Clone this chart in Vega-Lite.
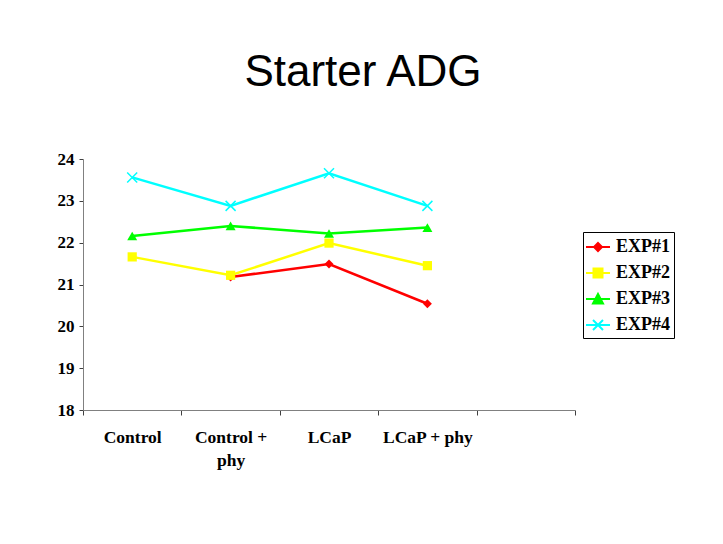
{
  "$schema": "https://vega.github.io/schema/vega-lite/v6.json",
  "width": 492,
  "height": 251,
  "autosize": "none",
  "padding": {"left": 83, "top": 159, "right": 148, "bottom": 134},
  "background": "white",
  "title": {
    "text": "Starter ADG",
    "font": "Liberation Sans",
    "fontSize": 44,
    "fontWeight": "normal",
    "color": "black",
    "anchor": "middle",
    "dx": 34,
    "baseline": "alphabetic",
    "offset": 20
  },
  "data": {
    "values": [
      {"series": "EXP#1", "treatment": "Control + phy", "value": 21.18},
      {"series": "EXP#1", "treatment": "LCaP", "value": 21.49},
      {"series": "EXP#1", "treatment": "LCaP + phy", "value": 20.54},
      {"series": "EXP#2", "treatment": "Control", "value": 21.66},
      {"series": "EXP#2", "treatment": "Control + phy", "value": 21.22},
      {"series": "EXP#2", "treatment": "LCaP", "value": 21.99},
      {"series": "EXP#2", "treatment": "LCaP + phy", "value": 21.45},
      {"series": "EXP#3", "treatment": "Control", "value": 22.16},
      {"series": "EXP#3", "treatment": "Control + phy", "value": 22.4},
      {"series": "EXP#3", "treatment": "LCaP", "value": 22.22},
      {"series": "EXP#3", "treatment": "LCaP + phy", "value": 22.36},
      {"series": "EXP#4", "treatment": "Control", "value": 23.56},
      {"series": "EXP#4", "treatment": "Control + phy", "value": 22.88},
      {"series": "EXP#4", "treatment": "LCaP", "value": 23.66},
      {"series": "EXP#4", "treatment": "LCaP + phy", "value": 22.88}
    ]
  },
  "encoding": {
    "x": {
      "field": "treatment",
      "type": "nominal",
      "scale": {"domain": ["Control", "Control + phy", "LCaP", "LCaP + phy", " "], "paddingInner": 0, "paddingOuter": 0},
      "axis": {
        "title": null,
        "labelAngle": 0,
        "tickBand": "extent",
        "domainColor": "#808080",
        "tickColor": "#404040",
        "tickSize": 5,
        "labelFont": "Liberation Serif",
        "labelFontWeight": "bold",
        "labelFontSize": 17.5,
        "labelColor": "black",
        "labelPadding": 13,
        "labelBaseline": "top",
        "labelLineHeight": 23,
        "labelExpr": "datum.label == 'Control + phy' ? ['Control +', 'phy'] : datum.label"
      }
    },
    "y": {
      "field": "value",
      "type": "quantitative",
      "scale": {"domain": [18, 24], "nice": false, "zero": false},
      "axis": {
        "title": null,
        "values": [18, 19, 20, 21, 22, 23, 24],
        "grid": false,
        "domainColor": "#808080",
        "tickColor": "#404040",
        "tickSize": 4,
        "labelFont": "Liberation Serif",
        "labelFontWeight": "bold",
        "labelFontSize": 17,
        "labelColor": "black",
        "labelPadding": 5
      }
    }
  },
  "layer": [
    {
      "mark": {"type": "line", "strokeWidth": 2.5},
      "encoding": {
        "color": {
          "field": "series",
          "type": "nominal",
          "scale": {"domain": ["EXP#1", "EXP#2", "EXP#3", "EXP#4"], "range": ["#FF0000", "#FFFF00", "#00FF00", "#00FFFF"]},
          "legend": {
            "title": null,
            "orient": "none",
            "legendX": 500,
            "legendY": 73,
            "strokeColor": "black",
            "fillColor": "white",
            "padding": 4,
            "rowPadding": 6,
            "symbolSize": 400,
            "symbolStrokeWidth": 2,
            "labelFont": "Liberation Serif",
            "labelFontWeight": "bold",
            "labelFontSize": 18,
            "labelColor": "black",
            "labelOffset": 7,
            "encode": {
              "symbols": {
                "update": {
                  "shape": {"signal": "datum.value === 'EXP#1' ? 'M-1.2,0H1.2M0,-0.4L0.4,0L0,0.4L-0.4,0Z' : datum.value === 'EXP#2' ? 'M-1.2,0H1.2M-0.45,-0.45H0.45V0.45H-0.45Z' : datum.value === 'EXP#3' ? 'M-1.2,0H1.2M0,-0.5L0.5,0.45H-0.5Z' : 'M-1.2,0H1.2M-0.5,-0.5L0.5,0.5M-0.5,0.5L0.5,-0.5'"},
                  "fill": {"scale": "color", "field": "value"},
                  "stroke": {"scale": "color", "field": "value"},
                  "fillOpacity": {"value": 1},
                  "strokeWidth": {"value": 2}
                }
              }
            }
          }
        }
      }
    },
    {
      "transform": [{"filter": "datum.series === 'EXP#1'"}],
      "mark": {"type": "point", "shape": "diamond", "filled": true, "size": 80, "color": "#FF0000", "opacity": 1}
    },
    {
      "transform": [{"filter": "datum.series === 'EXP#2'"}],
      "mark": {"type": "point", "shape": "square", "filled": true, "size": 85, "color": "#FFFF00", "opacity": 1}
    },
    {
      "transform": [{"filter": "datum.series === 'EXP#3'"}],
      "mark": {"type": "point", "shape": "triangle-up", "filled": true, "size": 100, "color": "#00FF00", "opacity": 1}
    },
    {
      "transform": [{"filter": "datum.series === 'EXP#4'"}],
      "mark": {"type": "point", "shape": "M-1,-1L1,1M-1,1L1,-1", "filled": false, "size": 100, "strokeWidth": 1.5, "color": "#00FFFF", "opacity": 1}
    }
  ],
  "config": {
    "view": {"stroke": null}
  }
}
